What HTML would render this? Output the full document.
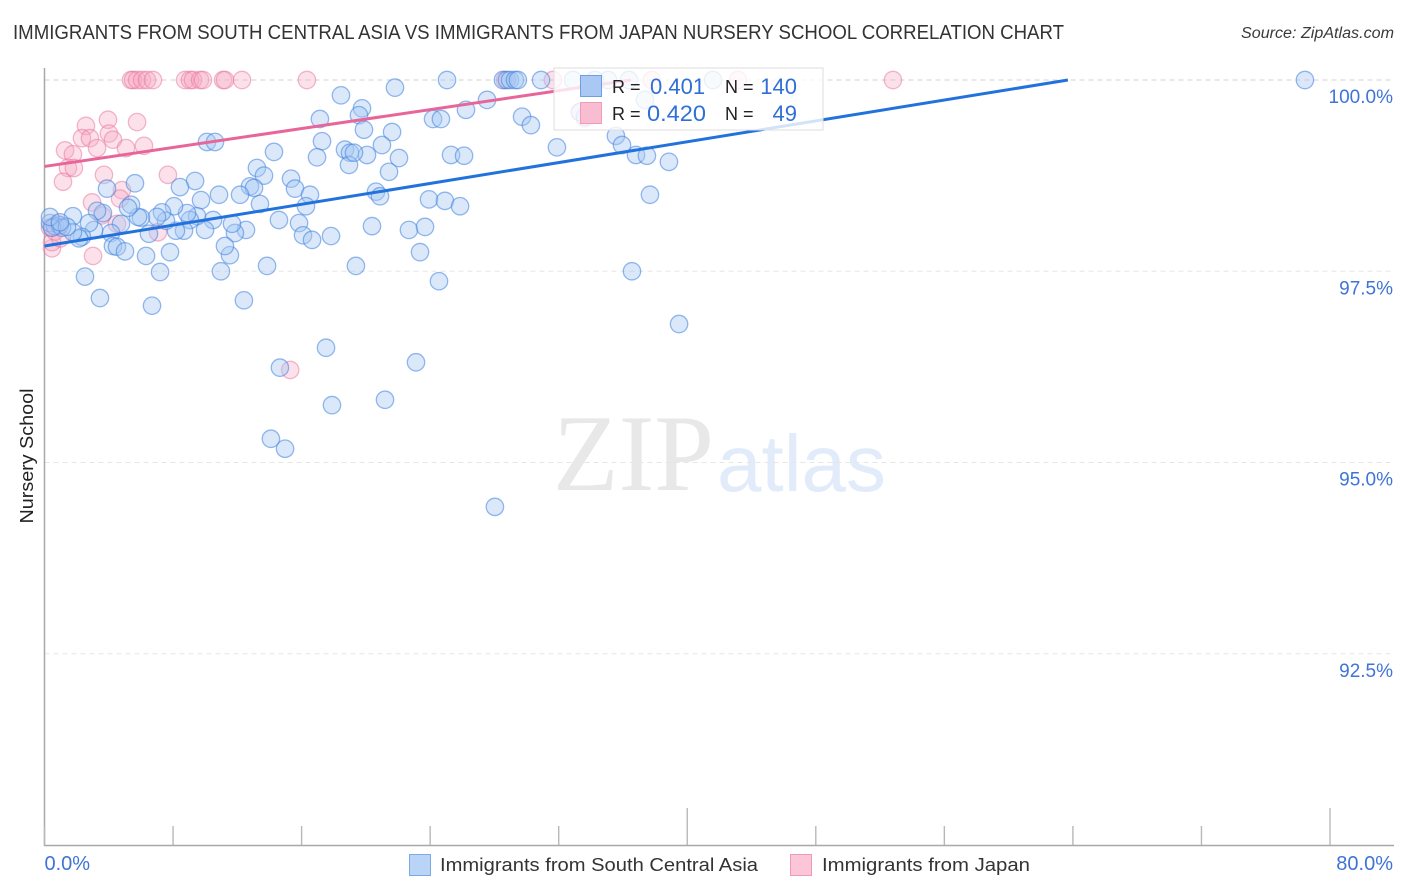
<!DOCTYPE html>
<html lang="en">
<head>
<meta charset="utf-8">
<title>Immigrants from South Central Asia vs Immigrants from Japan Nursery School Correlation Chart</title>
<style>
html,body{margin:0;padding:0;background:#fff;width:1406px;height:892px;overflow:hidden}
svg{display:block;font-family:"Liberation Sans",sans-serif}
</style>
</head>
<body>
<svg id="chart" width="1406" height="892" viewBox="0 0 1406 892">
  <text x="13" y="39" font-size="20" fill="#333" textLength="1051" lengthAdjust="spacingAndGlyphs">IMMIGRANTS FROM SOUTH CENTRAL ASIA VS IMMIGRANTS FROM JAPAN NURSERY SCHOOL CORRELATION CHART</text>
  <text x="1394" y="38" font-size="15.5" font-style="italic" fill="#3a3a3a" text-anchor="end" textLength="153" lengthAdjust="spacingAndGlyphs">Source: ZipAtlas.com</text>
  <g>
    <text x="553" y="490" font-family="'Liberation Serif',serif" font-size="109" fill="#e8e8e8" textLength="161" lengthAdjust="spacingAndGlyphs">ZIP</text>
    <text x="717" y="491" font-size="80" fill="#e2ebfa" textLength="169" lengthAdjust="spacingAndGlyphs">atlas</text>
  </g>
  <g id="grid"></g>
  <g id="axes"></g>
  <g id="points-japan"></g>
  <g id="points-asia"></g>
  <g id="trends"></g>
  <text transform="translate(33,456) rotate(-90)" font-size="18" fill="#222" text-anchor="middle" textLength="135" lengthAdjust="spacingAndGlyphs">Nursery School</text>

  <g>
    <rect x="554" y="68" width="269" height="62" fill="#fff" fill-opacity="0.8" stroke="#dedede" stroke-width="1"/>
    <rect x="580.5" y="75.5" width="21" height="21" fill="#a9c8f3" stroke="#6d9fe6"/>
    <rect x="580.5" y="102.5" width="21" height="21" fill="#f8bdd0" stroke="#f09bb8"/>
    <text x="612" y="93" font-size="18" fill="#222">R =</text>
    <text x="650" y="94" font-size="22" fill="#2f6fd6">0.401</text>
    <text x="725" y="93" font-size="18" fill="#222">N =</text>
    <text x="797" y="94" font-size="22" fill="#2f6fd6" text-anchor="end">140</text>
    <text x="612" y="120" font-size="18" fill="#222">R =</text>
    <text x="647" y="121" font-size="22" fill="#2f6fd6" textLength="59" lengthAdjust="spacingAndGlyphs">0.420</text>
    <text x="725" y="120" font-size="18" fill="#222">N =</text>
    <text x="797" y="121" font-size="22" fill="#2f6fd6" text-anchor="end">49</text>
  </g>

  <g>
    <rect x="409.5" y="854.5" width="21" height="21" fill="#b9d4f7" stroke="#7ea8e6"/>
    <text x="440" y="871" font-size="18.5" fill="#333" textLength="318" lengthAdjust="spacingAndGlyphs">Immigrants from South Central Asia</text>
    <rect x="790.5" y="854.5" width="21" height="21" fill="#fcc6d8" stroke="#eb9db8"/>
    <text x="822" y="871" font-size="18.5" fill="#333" textLength="208" lengthAdjust="spacingAndGlyphs">Immigrants from Japan</text>
  </g>
</svg>
<script>
const xTickValues = [0, 8, 16, 24, 32, 40, 48, 56, 64, 72, 80];
const xMajorTicks = [40, 80];
const xTickLabels = ["0.0%", "80.0%"];
const yTickValues = [100, 97.5, 95, 92.5];
const yTickLabels = ["100.0%", "97.5%", "95.0%", "92.5%"];

const asiaX = [18.45,17.14,17.27,16.96,18.70,19.01,18.95,10.11,10.61,14.28,13.22,13.66,15.34,15.59,16.52,16.27,12.79,13.04,12.17,10.86,9.37,8.43,5.63,3.89,9.74,13.41,14.59,15.84,16.09,16.65,17.83,12.54,11.85,11.67,10.49,9.99,9.49,9.05,8.87,8.68,8.18,8.06,7.56,7.31,7.00,6.50,6.00,5.82,5.38,5.20,4.76,4.14,3.64,3.27,3.08,2.77,1.77,2.33,2.15,1.77,4.26,4.51,5.01,6.32,7.81,7.19,2.52,3.45,6.69,12.41,13.85,10.98,11.54,11.23,0.34,0.65,0.96,1.09,0.47,1.40,0.34,0.96,25.05,21.81,27.54,19.76,19.57,19.88,21.63,21.00,20.07,19.26,22.06,21.44,24.18,24.67,26.23,25.30,26.11,29.72,30.27,31.89,35.56,35.94,36.81,37.49,38.86,37.68,20.63,20.88,23.93,24.92,25.86,20.38,22.68,23.68,23.37,19.38,24.55,36.56,39.49,28.53,28.78,28.97,29.28,29.46,30.90,32.89,34.26,35.07,36.37,41.60,37.37,33.32,33.63,78.44,17.52,14.65,23.12,17.89,21.19,14.09,14.97,28.03];
const asiaY = [99.80,99.49,99.20,98.99,99.09,99.05,98.89,99.19,99.19,99.06,98.85,98.75,98.71,98.58,98.50,98.35,98.61,98.59,98.50,98.50,98.68,98.60,98.65,98.58,98.43,98.38,98.17,98.13,97.97,97.91,97.96,98.04,98.00,98.12,98.17,98.04,98.22,98.17,98.26,98.03,98.03,98.35,98.16,98.27,98.21,97.99,98.20,98.21,98.37,98.33,98.12,98.00,98.26,98.29,98.04,98.13,98.22,97.95,97.93,98.01,97.83,97.82,97.76,97.70,97.75,97.49,97.43,97.15,97.05,97.12,97.57,97.50,97.71,97.83,98.13,98.09,98.10,98.07,98.07,98.08,98.21,98.14,100,99.90,99.74,99.63,99.54,99.35,99.32,99.15,99.02,99.05,98.98,98.80,99.49,99.49,99.61,99.02,99.01,99.52,99.41,99.12,99.27,99.15,99.02,99.01,98.93,98.50,98.54,98.48,98.44,98.42,98.35,98.09,98.04,98.08,97.75,97.57,97.37,97.50,96.81,100,100,100,100,100,100,100,100,100,100,100,99.74,99.58,99.52,100,96.50,96.24,96.31,95.75,95.82,95.31,95.18,94.42];

const japanX = [5.38,5.51,5.76,6.07,6.38,6.75,8.75,9.05,9.24,9.68,9.86,11.11,11.23,12.29,16.33,28.66,31.64,37.80,43.15,52.80,5.76,3.95,2.58,4.01,2.33,2.83,4.26,1.28,1.77,3.27,5.07,6.19,1.46,1.83,1.15,3.70,7.68,4.82,2.96,4.70,3.58,4.51,7.06,3.02,0.47,0.47,0.65,0.34,0.78,0.99,15.29,33.63,33.32];
const japanY = [100,100,100,100,100,100,100,100,100,100,100,100,100,100,100,100,100,100,100,100,99.45,99.48,99.40,99.30,99.24,99.24,99.22,99.08,99.03,99.11,99.11,99.14,98.85,98.85,98.67,98.76,98.76,98.56,98.40,98.45,98.23,98.12,98.01,97.70,97.80,97.88,98.02,98.07,98.12,97.93,96.21,99.50,99.58];

const trendAsiaX = [0, 63.69];
const trendAsiaY = [97.83, 100];
const trendJapanX = [0, 36.5];
const trendJapanY = [98.87, 100];

const NS = 'http://www.w3.org/2000/svg';
function xScale(v){ return 44.5 + v * (1330 - 44.5) / 80; }
function yScale(v){ return 80 + (100 - v) * 76.5; }
function mk(tag, attrs, parent){
  const el = document.createElementNS(NS, tag);
  for (const k in attrs) el.setAttribute(k, attrs[k]);
  parent.appendChild(el);
  return el;
}

const grid = document.getElementById('grid');
yTickValues.forEach(function(v, i){
  const line = mk('line', {x1:44.5, x2:1394, y1:yScale(v), y2:yScale(v), stroke:i===0?'#d2d2d2':'#e6e6e6', 'stroke-width':1, 'stroke-dasharray':'5 4'}, grid);
  
  
});

const axes = document.getElementById('axes');
const yAxisLine = mk('line', {x1:44.5, x2:44.5, y1:68, y2:846, stroke:'#a8a8a8', 'stroke-width':1.5}, axes);


const xAxisLine = mk('line', {x1:44, x2:1394, y1:845.5, y2:845.5, stroke:'#a8a8a8', 'stroke-width':1.5}, axes);


xTickValues.forEach(function(v){
  const top = xMajorTicks.indexOf(v) >= 0 ? 808 : 826;
  const tick = mk('line', {x1:xScale(v), x2:xScale(v), y1:top, y2:845, stroke:'#b8b8b8', 'stroke-width':1.4}, axes);
  
  
});
yTickValues.forEach(function(v, i){
  const t = mk('text', {x:1393, y:yScale(v) + 23, 'font-size':19, fill:'#3f74d6', 'text-anchor':'end'}, axes);
  t.textContent = yTickLabels[i];
  
  
});
const xLabelFirst = mk('text', {x:xScale(xTickValues[0]), y:870, 'font-size':20, fill:'#3f74d6'}, axes);
xLabelFirst.textContent = xTickLabels[0];


const xLabelLast = mk('text', {x:1393, y:870, 'font-size':20, fill:'#3f74d6', 'text-anchor':'end'}, axes);
xLabelLast.textContent = xTickLabels[1];



const ptsJapan = document.getElementById('points-japan');
japanX.forEach(function(v, i){
  const c = mk('circle', {cx:xScale(v), cy:yScale(japanY[i]), r:8.7, fill:'#f7a9c2', 'fill-opacity':0.35, stroke:'#e8749c', 'stroke-opacity':0.5, 'stroke-width':1.3}, ptsJapan);
  
  
});
const ptsAsia = document.getElementById('points-asia');
asiaX.forEach(function(v, i){
  const c = mk('circle', {cx:xScale(v), cy:yScale(asiaY[i]), r:8.7, fill:'#a6c8f4', 'fill-opacity':0.42, stroke:'#3f82de', 'stroke-opacity':0.55, 'stroke-width':1.3}, ptsAsia);
  
  
});

const trends = document.getElementById('trends');
const trendJapan = mk('line', {x1:xScale(trendJapanX[0]), y1:yScale(trendJapanY[0]), x2:xScale(trendJapanX[1]), y2:yScale(trendJapanY[1]), stroke:'#e8659a', 'stroke-width':3}, trends);


const trendAsia = mk('line', {x1:xScale(trendAsiaX[0]), y1:yScale(trendAsiaY[0]), x2:xScale(trendAsiaX[1]), y2:yScale(trendAsiaY[1]), stroke:'#2272dd', 'stroke-width':3}, trends);


</script>
</body>
</html>
